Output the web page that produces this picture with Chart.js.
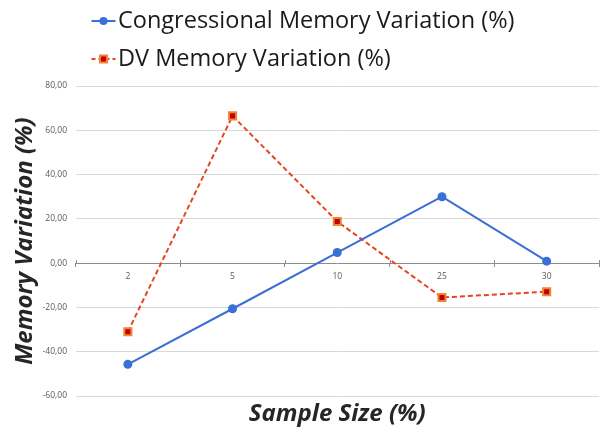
<!DOCTYPE html>
<html>
<head>
<meta charset="utf-8">
<style>
  html, body { margin: 0; padding: 0; background: #ffffff; }
  #wrap { width: 606px; height: 434px; position: relative; }
</style>
<script src="https://cdn.jsdelivr.net/npm/chart.js@4.4.1/dist/chart.umd.min.js"></script>
</head>
<body>
<div id="wrap"><canvas id="chart" width="606" height="434"></canvas></div>
<script>
// Sample sizes (%) on the category axis
const categories = ['2', '5', '10', '25', '30'];
// Memory variation (%) per sample size
const congressional = [-45.7, -20.6, 4.8, 30.0, 0.9];
const dvVariation = [-31.0, 66.5, 18.8, -15.5, -12.9];
// Value axis range and step
const yMin = -60;
const yMax = 80;
const yStep = 20;

const seriesNames = ['Congressional Memory Variation (%)', 'DV Memory Variation (%)'];
const xTitle = 'Sample Size (%)';
const yTitle = 'Memory Variation (%)';

const BLUE = '#3a6fd6';
const RED_LINE = '#e6461c';
const SQ_BORDER = '#f08632';
const SQ_FILL = '#c00000';
const FONT = '"Open Sans", "DejaVu Sans", sans-serif';

// Legend drawn above the plot: line sample + marker + label, one series per row
const legendPlugin = {
  id: 'seriesLegend',
  afterDraw(chart) {
    const ctx = chart.ctx;
    const rows = [21, 59];
    const x0 = 91.5, x1 = 115.5, xm = 103.5, xt = 118;
    ctx.save();
    rows.forEach((y, i) => {
      ctx.lineWidth = 2;
      if (i === 0) {
        ctx.strokeStyle = BLUE;
        ctx.setLineDash([]);
        ctx.beginPath(); ctx.moveTo(x0, y); ctx.lineTo(x1, y); ctx.stroke();
        ctx.fillStyle = BLUE;
        ctx.beginPath(); ctx.arc(xm, y, 4, 0, Math.PI * 2); ctx.fill();
      } else {
        ctx.strokeStyle = RED_LINE;
        ctx.setLineDash([4, 3]);
        ctx.beginPath(); ctx.moveTo(x0, y); ctx.lineTo(x1, y); ctx.stroke();
        ctx.setLineDash([]);
        ctx.fillStyle = SQ_FILL;
        ctx.fillRect(xm - 3.5, y - 3.5, 7, 7);
        ctx.strokeStyle = SQ_BORDER;
        ctx.lineWidth = 2;
        ctx.strokeRect(xm - 3.5, y - 3.5, 7, 7);
      }
      ctx.fillStyle = '#1a1a1a';
      ctx.font = '23.5px ' + FONT;
      ctx.textAlign = 'left';
      ctx.textBaseline = 'middle';
      ctx.fillText(seriesNames[i], xt, y);
    });
    ctx.restore();
  }
};

// Category-axis title centred under the plot area, plus small upward tick marks
const axisExtras = {
  id: 'axisExtras',
  afterDraw(chart) {
    const ctx = chart.ctx;
    const area = chart.chartArea;
    const xs = chart.scales.x;
    const y0 = chart.scales.y.getPixelForValue(0);
    const step = xs.getPixelForTick(1) - xs.getPixelForTick(0);
    ctx.save();
    ctx.strokeStyle = '#8c8c8c';
    ctx.lineWidth = 1;
    for (let i = 0; i <= categories.length; i++) {
      const px = Math.round(xs.getPixelForTick(0) - step / 2 + i * step) + 0.5;
      ctx.beginPath(); ctx.moveTo(px, y0 - 3); ctx.lineTo(px, y0); ctx.stroke();
    }
    ctx.fillStyle = '#262626';
    ctx.font = 'italic bold 24px ' + FONT;
    ctx.textAlign = 'center';
    ctx.textBaseline = 'middle';
    ctx.fillText(xTitle, (area.left + area.right) / 2, 414);
    ctx.restore();
  }
};

new Chart(document.getElementById('chart'), {
  type: 'line',
  data: {
    labels: categories,
    datasets: [
      {
        label: seriesNames[0],
        data: congressional,
        borderColor: BLUE,
        backgroundColor: BLUE,
        borderWidth: 2,
        pointStyle: 'circle',
        pointRadius: 4.5,
        pointBorderWidth: 0,
        pointBackgroundColor: BLUE,
        tension: 0
      },
      {
        label: seriesNames[1],
        data: dvVariation,
        borderColor: RED_LINE,
        borderWidth: 2,
        borderDash: [5, 3],
        pointStyle: 'rect',
        pointRadius: 5,
        pointBorderWidth: 2,
        pointBorderColor: SQ_BORDER,
        pointBackgroundColor: SQ_FILL,
        tension: 0
      }
    ]
  },
  options: {
    responsive: false,
    animation: false,
    devicePixelRatio: 1,
    layout: { padding: { top: 86, right: 5, bottom: 38, left: 0 } },
    plugins: {
      legend: { display: false },
      tooltip: { enabled: false },
      title: { display: false }
    },
    scales: {
      x: {
        type: 'category',
        position: { y: 0 },
        offset: true,
        grid: {
          offset: true,
          drawOnChartArea: false,
          drawTicks: true,
          tickLength: 3,
          color: '#8c8c8c'
        },
        border: { display: true, color: '#8c8c8c', width: 1 },
        ticks: {
          color: '#595959',
          font: { family: FONT, size: 8.5 },
          padding: 5,
          maxRotation: 0
        }
      },
      y: {
        min: yMin,
        max: yMax,
        position: 'left',
        afterFit(scale) { scale.width = 75.5; },
        grid: {
          drawTicks: false,
          color: (c) => (c.tick && c.tick.value === 0 ? 'rgba(0,0,0,0)' : '#d9d9d9'),
          lineWidth: 1
        },
        border: { display: false },
        ticks: {
          stepSize: yStep,
          color: '#595959',
          font: { family: FONT, size: 8.5 },
          padding: 8.5,
          callback: (v) => v.toFixed(2).replace('.', ',')
        },
        title: {
          display: true,
          text: yTitle,
          color: '#262626',
          font: { family: FONT, size: 24, style: 'italic', weight: 'bold' },
          padding: { top: 11, bottom: 0 }
        }
      }
    }
  },
  plugins: [legendPlugin, axisExtras]
});
</script>
</body>
</html>
